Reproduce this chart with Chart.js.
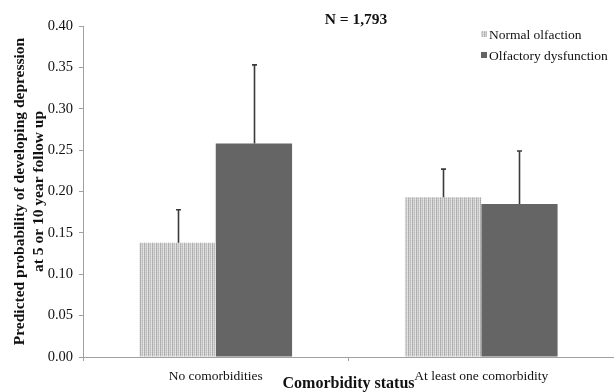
<!DOCTYPE html>
<html>
<head>
<meta charset="utf-8">
<script src="https://cdn.jsdelivr.net/npm/chart.js@4"></script>
<style>
  html, body { margin: 0; padding: 0; background: #fff; }
  #wrap { width: 614px; height: 392px; }
</style>
</head>
<body>
<div id="wrap"><canvas id="c" width="614" height="392"></canvas></div>
<script>
// 値は図から目視で読み取り
const categories = ["No comorbidities", "At least one comorbidity"];
const seriesNames = ["Normal olfaction", "Olfactory dysfunction"];
const normalValues = [0.138, 0.193];
const dysValues = [0.258, 0.185];
// エラーバー上端（片側のみ）
const normalUpper = [0.178, 0.227];
const dysUpper = [0.353, 0.249];
const yTicks = [0, 0.05, 0.10, 0.15, 0.20, 0.25, 0.30, 0.35, 0.40];
const chartTitle = "N = 1,793";
const xTitle = "Comorbidity status";
const yTitle = ["Predicted probability of developing depression", "at 5 or 10 year follow up"];

const FONT = "'Liberation Serif', 'Times New Roman', serif";

// 縦縞の灰色パターン
function stripePattern() {
  const p = document.createElement("canvas");
  p.width = 4; p.height = 2;
  const g = p.getContext("2d");
  const cols = ["#a8a8a8", "#d2d2d2", "#bababa", "#dedede"];
  cols.forEach((c, i) => { g.fillStyle = c; g.fillRect(i, 0, 1, 2); });
  g.fillStyle = "rgba(255,255,255,0.18)";
  g.fillRect(0, 1, 4, 1);
  return g.createPattern(p, "repeat");
}

const ctx = document.getElementById("c").getContext("2d");
const normalFill = stripePattern();
const dysFill = "#656565";

// エラーバー描画
const errorBars = {
  id: "errorBars",
  afterDatasetsDraw(chart) {
    const c = chart.ctx;
    const y = chart.scales.y;
    const uppers = [normalUpper, dysUpper];
    c.save();
    c.strokeStyle = "#3a3a3a";
    c.lineWidth = 1.6;
    chart.data.datasets.forEach((ds, di) => {
      chart.getDatasetMeta(di).data.forEach((bar, i) => {
        const x = Math.round(bar.x) + 0.5;
        const top = y.getPixelForValue(uppers[di][i]);
        c.beginPath();
        c.moveTo(x, bar.y);
        c.lineTo(x, top);
        c.moveTo(x - 2.5, top);
        c.lineTo(x + 2.5, top);
        c.stroke();
      });
    });
    c.restore();
  }
};

// タイトルと凡例（グラフ内右上）
const overlay = {
  id: "overlay",
  afterDraw(chart) {
    const c = chart.ctx;
    c.save();
    c.fillStyle = "#111";
    c.font = "bold 15.5px " + FONT;
    c.textAlign = "center";
    c.textBaseline = "middle";
    c.fillText(chartTitle, 356, 20);
    c.font = "13.5px " + FONT;
    c.textAlign = "left";
    const fills = [normalFill, dysFill];
    seriesNames.forEach((name, i) => {
      const ly = 34 + i * 21;
      c.fillStyle = fills[i];
      c.fillRect(481, ly - 3, 6, 6);
      c.fillStyle = "#111";
      c.fillText(name, 489, ly + 1);
    });
    c.restore();
  }
};

new Chart(ctx, {
  type: "bar",
  data: {
    labels: categories,
    datasets: [
      { label: seriesNames[0], data: normalValues, backgroundColor: normalFill, borderWidth: 0 },
      { label: seriesNames[1], data: dysValues, backgroundColor: dysFill, borderWidth: 0 }
    ]
  },
  options: {
    responsive: false,
    animation: false,
    layout: { padding: { top: 26, right: -5, left: 0, bottom: 0 } },
    datasets: { bar: { categoryPercentage: 0.575, barPercentage: 1.0 } },
    plugins: {
      legend: { display: false },
      title: { display: false },
      tooltip: { enabled: false }
    },
    scales: {
      x: {
        afterFit: s => { s.height = 35; },
        grid: { display: true, drawOnChartArea: false, tickLength: 4, color: "#a0a0a0", offset: true },
        border: { color: "#a0a0a0" },
        ticks: { color: "#111", font: { family: FONT, size: 13.5 }, padding: 7 },
        title: { display: true, text: xTitle, color: "#111", font: { family: FONT, size: 16, weight: "bold", lineHeight: 1 }, padding: { top: 0, bottom: 0 } }
      },
      y: {
        min: 0,
        max: 0.4,
        afterFit: s => { s.width = 83; },
        afterBuildTicks: s => { s.ticks = yTicks.map(v => ({ value: v })); },
        grid: { display: true, drawOnChartArea: false, tickLength: 4, color: "#a0a0a0" },
        border: { color: "#a0a0a0" },
        ticks: { color: "#111", font: { family: FONT, size: 14.5 }, padding: 6, callback: v => Number(v).toFixed(2) },
        title: { display: true, text: yTitle, color: "#111", font: { family: FONT, size: 15.5, weight: "bold", lineHeight: 1.2 }, padding: { top: 11, bottom: 0 } }
      }
    }
  },
  plugins: [errorBars, overlay]
});
</script>
</body>
</html>
